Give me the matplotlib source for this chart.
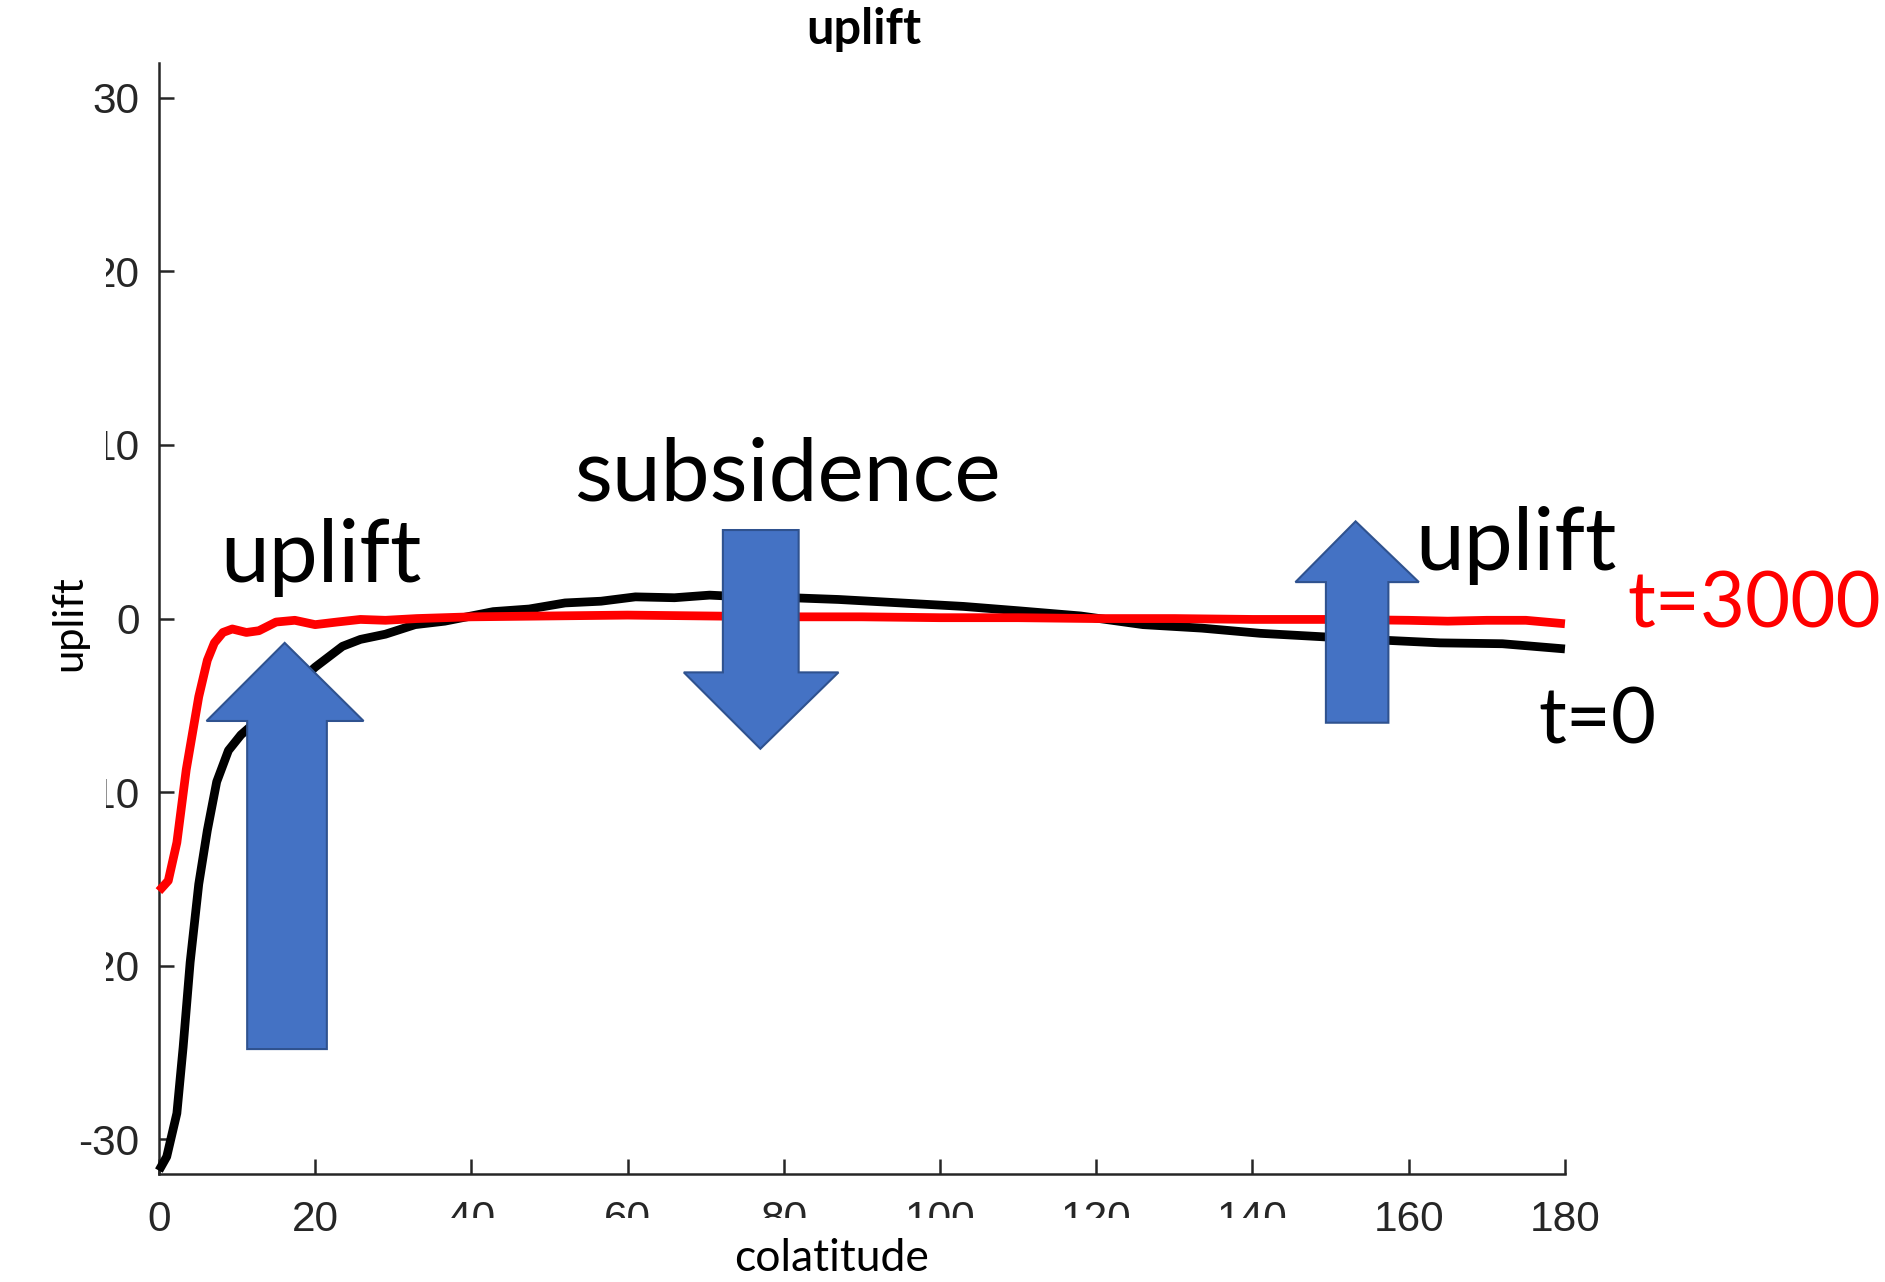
import matplotlib.pyplot as plt
from matplotlib.patches import Polygon, Rectangle

plt.rcParams['axes.unicode_minus'] = False

# uplift profiles along colatitude (degrees)
colat_t0 = [0, 1, 2.3, 3.1, 4, 5.1, 6.2, 7.4, 8.9, 10.5, 12.8, 16.6, 20, 23.5,
            25.8, 29, 32.8, 36.6, 40, 42.8, 47.4, 52, 56.6, 61, 66, 70.5, 75,
            81, 87, 95, 103, 110, 118, 126, 133.5, 141, 149, 157, 164, 172, 180]
uplift_t0 = [-31.8, -31.0, -28.5, -24.7, -19.8, -15.3, -12.2, -9.4, -7.6, -6.7,
             -5.8, -4.2, -2.8, -1.6, -1.2, -0.9, -0.35, -0.15, 0.15, 0.4, 0.55,
             0.9, 1.0, 1.25, 1.2, 1.35, 1.25, 1.2, 1.1, 0.9, 0.7, 0.45, 0.15,
             -0.35, -0.55, -0.85, -1.05, -1.25, -1.4, -1.45, -1.75]

colat_t3000 = [0, 1.2, 2.3, 3.5, 5.1, 6.2, 7.1, 8.2, 9.4, 11.2, 12.8, 15, 17.4,
               20, 22.8, 25.8, 29, 33, 40, 50, 60, 70, 80, 90, 100, 110, 120,
               130, 140, 150, 160, 165, 170, 175, 180]
uplift_t3000 = [-15.7, -15.1, -12.9, -8.7, -4.5, -2.4, -1.4, -0.8, -0.6, -0.8,
                -0.7, -0.2, -0.1, -0.35, -0.2, -0.05, -0.1, 0.0, 0.1, 0.15, 0.2,
                0.15, 0.1, 0.1, 0.05, 0.05, 0.0, 0.0, -0.05, -0.05, -0.1, -0.15,
                -0.1, -0.1, -0.3]

x_ticks = [0, 20, 40, 60, 80, 100, 120, 140, 160, 180]
y_ticks = [-30, -20, -10, 0, 10, 20, 30]

label_font = ['Lato', 'DejaVu Sans']
axis_font = ['Liberation Sans', 'DejaVu Sans']
arrow_face = '#4472C4'
arrow_edge = '#2F528F'


def block_arrow(shaft_x, tail_y, head_x, head_y, tip):
    # up or down block arrow as one polygon
    pts = [(shaft_x[0], tail_y), (shaft_x[0], head_y), (head_x[0], head_y),
           tip, (head_x[1], head_y), (shaft_x[1], head_y), (shaft_x[1], tail_y)]
    return Polygon(pts, closed=True, facecolor=arrow_face, edgecolor=arrow_edge,
                   linewidth=1.5, zorder=5, clip_on=False)


fig = plt.figure(figsize=(18.85, 12.82), dpi=100)
ax = fig.add_axes([0.0843, 0.0842, 0.7459, 0.8666])

ax.plot(colat_t0, uplift_t0, color='black', linewidth=6.3, zorder=3,
        solid_capstyle='butt', solid_joinstyle='round', clip_on=False)
ax.plot(colat_t3000, uplift_t3000, color='red', linewidth=6.3, zorder=4,
        solid_capstyle='butt', solid_joinstyle='round', clip_on=False)

ax.set_xlim(0, 180)
ax.set_ylim(-32, 32)
ax.set_xticks(x_ticks)
ax.set_yticks(y_ticks)
for s in ['top', 'right']:
    ax.spines[s].set_visible(False)
for s in ['left', 'bottom']:
    ax.spines[s].set_linewidth(1.8)
    ax.spines[s].set_color('#262626')
ax.tick_params(direction='in', length=11, width=1.8, color='#262626',
               labelcolor='#262626', labelsize=30.5)
ax.tick_params(axis='x', pad=19)
ax.tick_params(axis='y', pad=14)
for lab in ax.get_xticklabels() + ax.get_yticklabels():
    lab.set_family(axis_font)

fig.text(0.458, 1 - 30 / 1282, 'uplift', fontsize=35, fontweight='bold',
         family=label_font, ha='center', va='center')

# arrows
ax.add_patch(block_arrow((11.3, 21.5), -24.8, (6.1, 26.2), -5.9, (16.1, -1.4)))
ax.add_patch(block_arrow((72.2, 81.9), 5.1, (67.2, 87.0), -3.1, (77.0, -7.5)))
ax.add_patch(block_arrow((149.4, 157.4), -6.0, (145.5, 161.3), 2.1, (153.2, 5.6)))

ax.text(7.8, 2.1, 'uplift', fontsize=63, family=label_font, va='baseline',
        zorder=6, clip_on=False)
ax.text(53.2, 6.8, 'subsidence', fontsize=63, family=label_font,
        va='baseline', zorder=6, clip_on=False)
ax.text(160.8, 2.8, 'uplift', fontsize=63, family=label_font, va='baseline',
        zorder=6, clip_on=False)
ax.text(188, -0.5, 't=3000', fontsize=56, color='red', family=label_font,
        va='baseline', zorder=6, clip_on=False)
ax.text(176.6, -7.2, 't=0', fontsize=56, family=label_font, va='baseline',
        zorder=6, clip_on=False)

# white boxes behind the axis labels
fig.patches.append(Rectangle((0, 0.142), 0.0562, 0.749, transform=fig.transFigure,
                             facecolor='white', edgecolor='none', zorder=2))
fig.patches.append(Rectangle((0.2, 0), 0.506, 0.050, transform=fig.transFigure,
                             facecolor='white', edgecolor='none', zorder=2))

fig.text(0.441, 0.018, 'colatitude', fontsize=32, family=label_font,
         ha='center', va='center', zorder=3)
fig.text(0.037, 0.514, 'uplift', fontsize=30, family=label_font, rotation=90,
         ha='center', va='center', zorder=3)

fig.savefig('out.png', dpi=100, facecolor='white')
